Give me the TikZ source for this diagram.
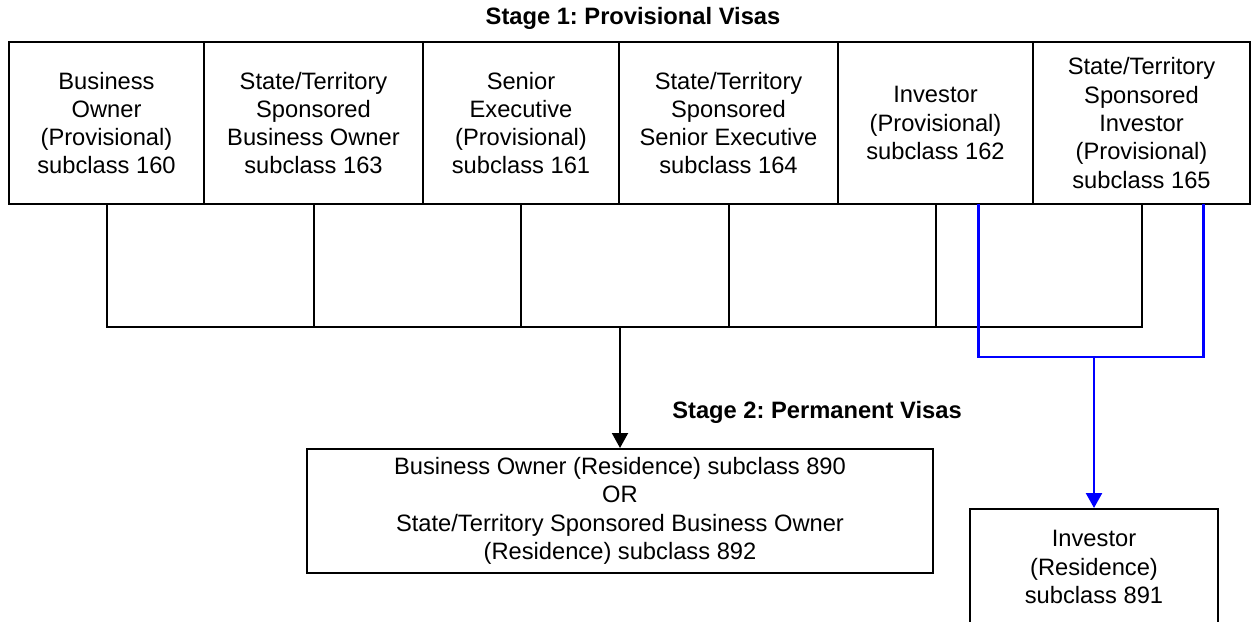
\documentclass[tikz,border=0pt]{standalone}
\usepackage{fontspec}
\setmainfont{Liberation Sans}
\usepackage{tikz}
\usetikzlibrary{arrows.meta}
\frenchspacing

\tikzset{
	visa/.style={draw, line width=2pt, align=center, inner sep=0pt, minimum height=162pt,
		font=\fontsize{23.7}{28.3}\selectfont},
	permvisa/.style={draw, line width=2pt, align=center, inner sep=0pt,
		font=\fontsize{23.7}{28.3}\selectfont},
	stagetitle/.style={font=\fontsize{23.7}{28.3}\selectfont\bfseries, inner sep=0pt},
	link/.style={line width=2pt, line cap=rect},
	linkarrow/.style={line width=2pt, -{Triangle[width=16pt,length=15pt]}},
	invlink/.style={blue, line width=2.4pt, line cap=rect},
	invarrow/.style={blue, line width=2.4pt, -{Triangle[width=16pt,length=15pt]}}
}

\begin{document}
\begin{tikzpicture}[x=1pt, y=-1pt]
	\useasboundingbox (0,0) rectangle (1255,621);

	\node[stagetitle] (stage1) at (633,18) {Stage 1: Provisional Visas};
	\node[stagetitle] (stage2) at (817,412) {Stage 2: Permanent Visas};

	% provisional visas
	\node[visa, minimum width=195pt] (bo)   at (106.5,123) {Business\\Owner\\(Provisional)\\subclass 160};
	\node[visa, minimum width=219pt] (sbo)  at (313.5,123) {State/Territory\\Sponsored\\Business Owner\\subclass 163};
	\node[visa, minimum width=196pt] (se)   at (521,123)   {Senior\\Executive\\(Provisional)\\subclass 161};
	\node[visa, minimum width=219pt] (sse)  at (728.5,123) {State/Territory\\Sponsored\\Senior Executive\\subclass 164};
	\node[visa, minimum width=195pt] (inv)  at (935.5,123) {Investor\\(Provisional)\\subclass 162};
	\node[visa, minimum width=217pt] (sinv) at (1141.5,123) {State/Territory\\Sponsored\\Investor\\(Provisional)\\subclass 165};

	% permanent visas
	\node[permvisa, minimum width=626pt, minimum height=124pt] (res890) at (620,511)
		{Business Owner (Residence) subclass 890\\OR\\State/Territory Sponsored Business Owner\\(Residence) subclass 892};
	\node[permvisa, minimum width=248pt, minimum height=116pt] (res891) at (1094,567)
		{Investor\\(Residence)\\subclass 891};

	\coordinate (bus) at (620,327);
	\coordinate (invbus) at (1094,357);

	\foreach \v in {bo,sbo,se,sse,inv,sinv}
		\draw[link] (\v.south) -- (\v.south |- bus);
	\draw[link] (bo.south |- bus) -- (sinv.south |- bus);
	\draw[linkarrow] (bus) -- (res890.north);

	\draw[invlink] ([xshift=43]inv.south) |- (invbus) -| ([xshift=62]sinv.south);
	\draw[invarrow] (invbus) -- (res891.north);
\end{tikzpicture}
\end{document}
